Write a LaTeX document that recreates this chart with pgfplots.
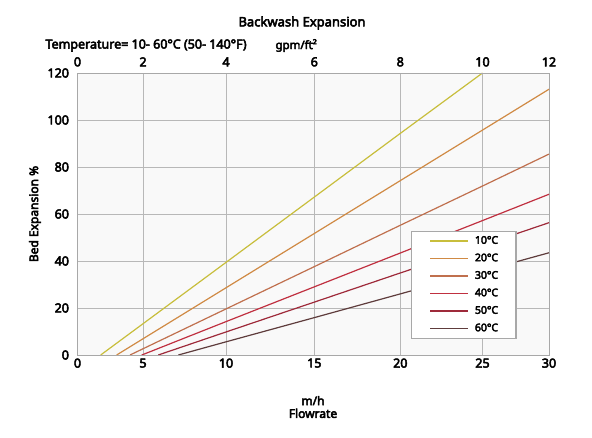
\documentclass[border=0pt]{standalone}
\usepackage{pgfplots}
\pgfplotsset{compat=1.18}
\usepackage{fontspec}
\setmainfont{Noto Sans}[FakeBold=4]

\definecolor{c10}{HTML}{C8BE3C}
\definecolor{c20}{HTML}{D08A44}
\definecolor{c30}{HTML}{C0704E}
\definecolor{c40}{HTML}{C03040}
\definecolor{c50}{HTML}{9E2A3A}
\definecolor{c60}{HTML}{5E3C3C}
\definecolor{gridc}{HTML}{B8B8B8}
\definecolor{framec}{HTML}{A8A8A8}

% the grid of the original is not evenly spaced: map flowrate to position
\pgfplotsset{
  flowaxis/.style={
    scale only axis, width=471.5pt, height=282pt,
    at={(0,0)}, anchor=south west,
    xmin=0, xmax=30, ymin=0, ymax=120,
    x coord trafo/.code={%
      \begingroup
      \pgfkeys{/pgf/fpu=true,/pgf/fpu/output format=fixed}%
      \pgfmathparse{13.1*(##1)+3.5*max((##1)-5,0)+1.06*max((##1)-10,0)-0.46*max((##1)-15,0)-0.76*max((##1)-20,0)-3.14*max((##1)-25,0)}%
      \global\let\flowtmp\pgfmathresult
      \endgroup
      \let\pgfmathresult\flowtmp},
    xtick={0,5,10,15,20,25,30},
    major tick length=0pt,
    ticklabel style={font=\fontsize{12.5}{15}\selectfont},
    axis line style={framec, line width=0.9pt},
    /pgf/number format/assume math mode=true,
  },
}

\begin{document}
\begin{tikzpicture}
\path[use as bounding box] (-77.5pt,-83pt) rectangle (514.5pt,355pt);

\begin{axis}[flowaxis,
  axis background/.style={fill=gray!5},
  grid=major, grid style={gridc, line width=0.8pt},
  xticklabels={0,5,10,15,20,25,30},
  ytick={0,20,40,60,80,100,120},
  yticklabels={0,20,40,60,80,100,120},
  yticklabel style={xshift=-5pt},
  legend cell align=left,
  legend image code/.code={\draw[#1, line width=1.5pt] (0pt,0pt) -- (38pt,0pt);},
  legend style={at={(0.707,0.441)}, anchor=north west,
    draw=framec, line width=1.2pt, fill=white,
    font=\fontsize{10.5}{12}\selectfont,
    inner xsep=18pt, inner ysep=4.5pt, row sep=7pt, column sep=6pt,
    nodes={inner sep=0pt, text height=8pt, text depth=2.5pt}},
]
\addplot[c10, line width=1.2pt] coordinates {(1.77,0) (5,13.3) (10,39.4) (15,67.2) (20,94.3) (25,120)};
\addplot[c20, line width=1.2pt] coordinates {(2.99,0) (5,6.9) (10,28.6) (15,51.7) (20,74.2) (25,95.7) (30,113.1)};
\addplot[c30, line width=1.2pt] coordinates {(4.01,0) (5,2.65) (10,19.6) (15,37.6) (20,55.2) (25,71.9) (30,85.5)};
\addplot[c40, line width=1.2pt] coordinates {(4.9,0) (5,0.2) (10,14.2) (15,29.0) (20,43.4) (25,57.2) (30,68.4)};
\addplot[c50, line width=1.2pt] coordinates {(5.92,0) (10,9.8) (15,22.5) (20,34.9) (25,46.7) (30,56.3)};
\addplot[c60, line width=1.2pt] coordinates {(7.13,0) (10,5.6) (15,15.9) (20,26.0) (25,35.7) (30,43.5)};
\legend{10°C, 20°C, 30°C, 40°C, 50°C, 60°C}
\end{axis}

% gpm/ft2 scale along the top
\begin{axis}[flowaxis,
  axis x line*=top, axis y line=none,
  xticklabels={0,2,4,6,8,10,12},
  xticklabel style={yshift=3pt},
]
\addplot[draw=none] coordinates {(0,0) (30,120)};
\end{axis}

\node[font=\fontsize{13}{15}\selectfont] at (224.5pt,332pt) {Backwash Expansion};
\node[anchor=west, font=\fontsize{12.5}{14}\selectfont] at (-35.5pt,309.5pt) {Temperature= 10- 60°C (50- 140°F)};
\node[anchor=west, font=\fontsize{11.5}{14}\selectfont] at (194.5pt,309.5pt) {gpm/ft²};
\node[rotate=90, font=\fontsize{12}{14}\selectfont] at (-42.5pt,141pt) {Bed Expansion \%};
\node[align=center, font=\fontsize{12}{12.7}\selectfont] at (235.5pt,-52pt) {m/h\\Flowrate};
\end{tikzpicture}
\end{document}
